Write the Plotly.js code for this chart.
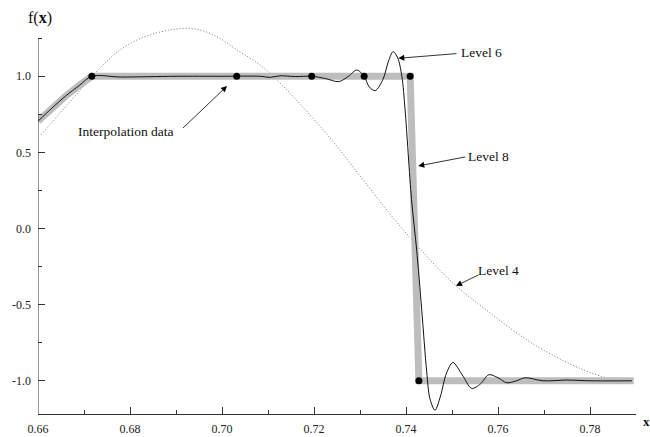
<!DOCTYPE html>
<html>
<head>
<meta charset="utf-8">
<script src="https://cdn.plot.ly/plotly-3.0.1.min.js"></script>
<style>html,body{margin:0;padding:0;background:#fff;}#chart{width:650px;height:437px;}</style>
</head>
<body>
<div id="chart"></div>
<script>
// Level 8 (thick grey)
const level8X = [0.660, 0.663, 0.666, 0.669, 0.6717, 0.7409, 0.7428, 0.7895];
const level8Y = [0.705, 0.79, 0.87, 0.94, 1.0, 1.0, -1.0, -1.0];

// Level 6 (thin black)
const level6X = [0.660, 0.663, 0.666, 0.669, 0.6717, 0.678, 0.690, 0.700, 0.7083, 0.7105, 0.7126, 0.7160,
  0.7195, 0.7225, 0.7254, 0.7275, 0.7293, 0.7309, 0.7320, 0.7333, 0.7350, 0.7362, 0.7372, 0.7382,
  0.7391, 0.7398, 0.7412, 0.7423, 0.7434, 0.7445, 0.7452, 0.7463, 0.7475, 0.7488, 0.7502, 0.7522,
  0.7543, 0.7562, 0.7580, 0.7600, 0.7619, 0.7640, 0.7659, 0.7698, 0.775, 0.780, 0.7891];
const level6Y = [0.705, 0.79, 0.87, 0.94, 1.0, 0.995, 1.0, 1.0, 1.0, 0.993, 1.003, 0.998,
  1.0, 0.985, 0.965, 1.0, 1.041, 1.0, 0.93, 0.906, 0.98, 1.10, 1.161, 1.12,
  1.0, 0.78, 0.191, -0.135, -0.527, -0.941, -1.117, -1.193, -1.10, -0.95, -0.88, -0.96,
  -1.05, -1.02, -0.96, -0.98, -1.013, -1.0, -0.98, -1.0, -0.995, -1.0, -1.0];

// Level 4 (dotted)
const level4X = [0.66065, 0.66478, 0.66913, 0.67174, 0.67457, 0.67783, 0.68109, 0.68435, 0.68870,
  0.69304, 0.69630, 0.69957, 0.70326, 0.70826, 0.71261, 0.71696, 0.72348, 0.73000, 0.73652,
  0.74304, 0.75065, 0.75826, 0.76696, 0.77565, 0.78217, 0.78913];
const level4Y = [0.616, 0.759, 0.907, 0.998, 1.087, 1.173, 1.232, 1.271, 1.304,
  1.314, 1.294, 1.248, 1.173, 1.074, 0.956, 0.818, 0.595, 0.346, 0.096,
  -0.134, -0.370, -0.554, -0.745, -0.889, -0.968, -1.020];

// Interpolation data points
const dataX = [0.6717, 0.7032, 0.7195, 0.7309, 0.7409, 0.7428];
const dataY = [1.0, 1.0, 1.0, 1.0, 1.0, -1.0];

// Tick labels
const xTickVals = [0.66, 0.68, 0.70, 0.72, 0.74, 0.76, 0.78];
const xTickText = ['0.66', '0.68', '0.70', '0.72', '0.74', '0.76', '0.78'];
const yTickVals = [-1.0, -0.5, 0.0, 0.5, 1.0];
const yTickText = ['-1.0', '-0.5', '0.0', '0.5', '1.0'];

const FONT = '"Liberation Serif", "Times New Roman", serif';
const AXC = '#333333';

const traces = [
  {x: level4X, y: level4Y, mode: 'lines', line: {color: '#767676', width: 1, dash: '1px,2px', shape: 'spline', smoothing: 1}, hoverinfo: 'skip'},
  {x: level8X, y: level8Y, mode: 'lines', line: {color: '#bdbdbd', width: 7, shape: 'linear'}, hoverinfo: 'skip'},
  {x: level6X, y: level6Y, mode: 'lines', line: {color: '#111111', width: 1, shape: 'spline', smoothing: 0.9}, hoverinfo: 'skip'},
  {x: dataX, y: dataY, mode: 'markers', marker: {color: '#000', size: 7}, cliponaxis: false, hoverinfo: 'skip'}
];

function arrow(hx, hy, tx, ty) {
  return {x: hx, y: hy, xref: 'x', yref: 'y', ax: tx, ay: ty, axref: 'x', ayref: 'y', text: '',
    showarrow: true, arrowhead: 2, arrowsize: 1.5, arrowwidth: 0.8, arrowcolor: '#000', standoff: 0, startstandoff: 0};
}
function label(x, y, t) {
  return {x: x, y: y, xref: 'x', yref: 'y', text: t, showarrow: false, xanchor: 'center', yanchor: 'middle',
    font: {family: FONT, size: 13.5, color: '#111'}};
}

const layout = {
  width: 650, height: 437,
  margin: {l: 38, r: 14, t: 20, b: 23},
  paper_bgcolor: '#fff', plot_bgcolor: '#fff',
  showlegend: false,
  font: {family: FONT, size: 12, color: '#222'},
  xaxis: {
    range: [0.66, 0.79], showgrid: false, zeroline: false,
    showline: true, linecolor: AXC, linewidth: 1,
    tickmode: 'array', tickvals: xTickVals, ticktext: xTickText,
    ticks: 'inside', ticklen: 7, tickwidth: 1, tickcolor: AXC, ticklabelstandoff: 4,
    minor: {tickmode: 'linear', tick0: 0.66, dtick: 0.01, ticks: 'inside', ticklen: 4, tickwidth: 1, tickcolor: AXC, showgrid: false},
    tickfont: {family: FONT, size: 12, color: '#222'}
  },
  yaxis: {
    range: [-1.218, 1.3695], showgrid: false, zeroline: false,
    showline: false,
    tickmode: 'array', tickvals: yTickVals, ticktext: yTickText,
    ticks: 'inside', ticklen: 7, tickwidth: 1, tickcolor: AXC, ticklabelstandoff: 6,
    minor: {tickmode: 'linear', tick0: 0, dtick: 0.25, ticks: 'inside', ticklen: 4, tickwidth: 1, tickcolor: AXC, showgrid: false},
    tickfont: {family: FONT, size: 12, color: '#222'}
  },
  shapes: [
    {type: 'line', xref: 'x', yref: 'y', x0: 0.66, x1: 0.66, y0: -1.218, y1: 1.25, layer: 'above',
      line: {color: AXC, width: 1}}
  ],
  annotations: [
    {xref: 'paper', yref: 'paper', x: 0.003, y: 1.005, text: 'f(<b>x</b>)', showarrow: false,
      xanchor: 'center', yanchor: 'middle', font: {family: FONT, size: 16, color: '#111'}},
    {xref: 'paper', yref: 'paper', x: 1.0084, y: -0.0203, text: '<b>x</b>', showarrow: false,
      xanchor: 'left', yanchor: 'middle', font: {family: FONT, size: 13, color: '#111'}},
    label(0.6792, 0.634, 'Interpolation data'),
    arrow(0.7011, 0.936, 0.6912, 0.651),
    label(0.75641, 1.153, 'Level 6'),
    arrow(0.73833, 1.118, 0.7513, 1.1496),
    label(0.75804, 0.470, 'Level 8'),
    arrow(0.74267, 0.411, 0.75320, 0.472),
    label(0.76009, -0.278, 'Level 4'),
    arrow(0.75087, -0.376, 0.75609, -0.300)
  ]
};

Plotly.newPlot('chart', traces, layout, {displayModeBar: false, staticPlot: true});
</script>
</body>
</html>
